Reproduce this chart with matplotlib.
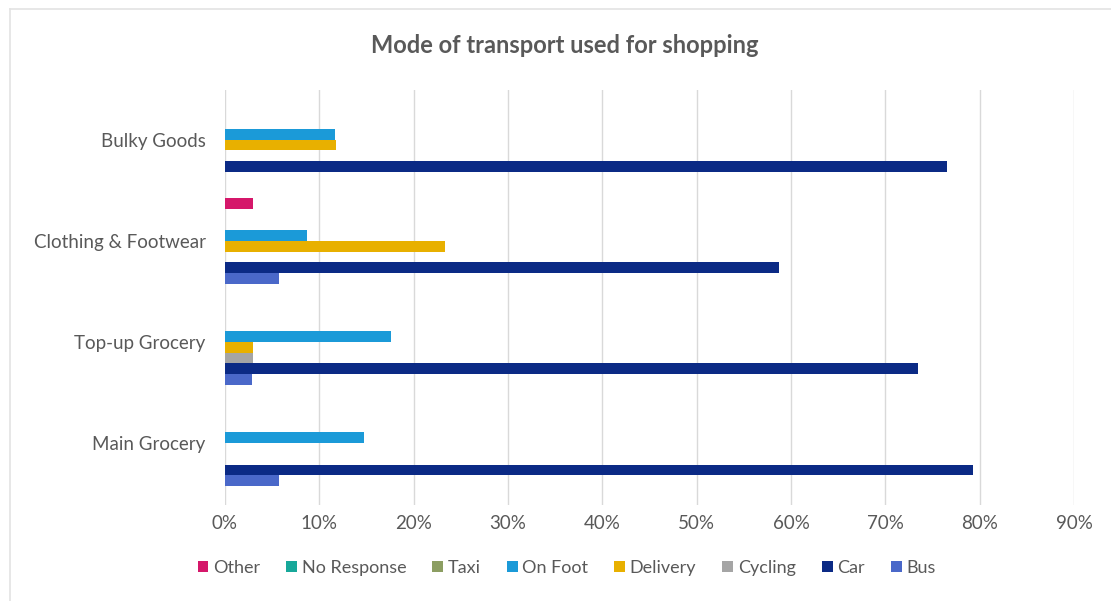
import matplotlib
matplotlib.use('Agg')
import matplotlib.pyplot as plt
import numpy as np
from matplotlib.patches import Patch
from matplotlib.lines import Line2D

plt.rcParams['font.family'] = ['Lato', 'DejaVu Sans']

# categories bottom to top
categories = ["Main Grocery", "Top-up Grocery", "Clothing & Footwear", "Bulky Goods"]

# series bottom to top within each group (values in %)
series = ["Bus", "Car", "Cycling", "Delivery", "On Foot", "Taxi", "No Response", "Other"]
bus = [5.7, 2.9, 5.7, 0]
car = [79.3, 73.5, 58.7, 76.5]
cycling = [0, 3.0, 0, 0]
delivery = [0, 3.0, 23.3, 11.8]
on_foot = [14.7, 17.6, 8.7, 11.7]
taxi = [0, 0, 0, 0]
no_response = [0, 0, 0, 0]
other = [0, 0, 3.0, 0]
values = [bus, car, cycling, delivery, on_foot, taxi, no_response, other]
colors = ["#4a68c9", "#0b2a85", "#a5a5a5", "#e8b000", "#1b9ad8", "#8c9e62", "#17a89a", "#d5176a"]

fig = plt.figure(figsize=(11.11, 6.01), dpi=100)
ax = fig.add_axes([0.2025, 0.160, 0.7642, 0.690])

h = 0.106
y = np.arange(len(categories))
for k, (name, vals, c) in enumerate(zip(series, values, colors)):
    ax.barh(y + (k - 3.5) * h, vals, height=h * 1.0, color=c, label=name, zorder=3)

ax.set_xlim(0, 90)
ax.set_ylim(-0.61, 3.49)
ax.set_xticks(np.arange(0, 91, 10))
ax.set_xticklabels([f"{t}%" for t in range(0, 91, 10)])
ax.set_yticks(y)
ax.set_yticklabels(categories)
ax.grid(axis='x', color='#d9d9d9', linewidth=1, zorder=0)
for s in ax.spines.values():
    s.set_visible(False)
ax.tick_params(axis='both', length=0, labelsize=13.5, colors='#595959')
ax.tick_params(axis='y', pad=14)
ax.tick_params(axis='x', pad=7)

fig.text(0.508, 0.925, "Mode of transport used for shopping", ha='center', va='center',
         fontsize=17, color='#595959', fontweight='bold')

handles = [Patch(facecolor=c, label=n) for n, c in zip(series, colors)][::-1]
fig.legend(handles=handles, loc='center', bbox_to_anchor=(0.51, 0.055), ncol=8,
           frameon=False, fontsize=13, handlelength=0.6, handleheight=0.6,
           handletextpad=0.25, columnspacing=1.45, labelcolor='#595959')

# faint chart border
fig.add_artist(Line2D([0.009, 0.009], [0.0, 0.985], color='#e3e3e3', lw=1.2, transform=fig.transFigure))
fig.add_artist(Line2D([0.009, 1.0], [0.985, 0.985], color='#e3e3e3', lw=1.2, transform=fig.transFigure))

fig.savefig("out.png", dpi=100, facecolor='white')
